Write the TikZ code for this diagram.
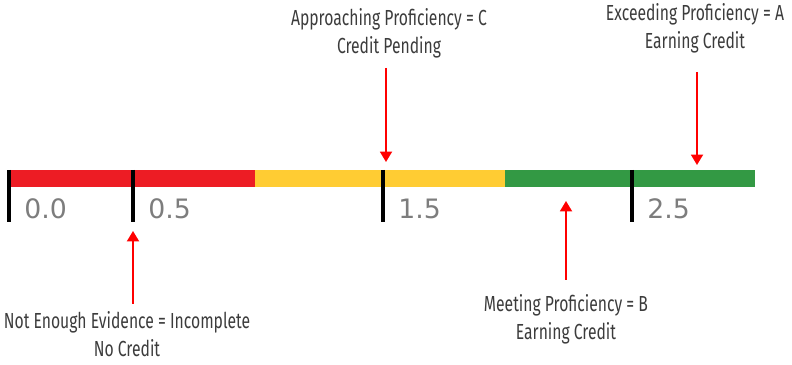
\documentclass[tikz,border=0pt]{standalone}
\usepackage{fontspec}
\setmainfont{Fira Sans}
\newfontfamily\narrowfont[FakeStretch=0.72]{Fira Sans}
\newfontfamily\scalefont{DejaVu Sans}
\usetikzlibrary{arrows.meta,positioning}

\definecolor{barred}{RGB}{237,28,36}
\definecolor{baryellow}{RGB}{255,204,51}
\definecolor{bargreen}{RGB}{51,153,68}
\definecolor{labelgray}{RGB}{60,60,60}
\definecolor{tickgray}{RGB}{125,125,125}

\begin{document}
\begin{tikzpicture}[x=0.025cm, y=-0.025cm,
    label/.style={align=center, font=\narrowfont\fontsize{15.5}{20}\selectfont, text=labelgray, inner sep=0pt},
    marker/.style={-{Triangle[length=2.6mm, width=3mm]}, red, line width=1.3pt},
    tickmark/.style={line width=3pt, black},
    ticktext/.style={anchor=west, font=\scalefont\fontsize{19}{19}\selectfont, text=tickgray, inner sep=0pt}
]
    \useasboundingbox (0,0) rectangle (792,365);

    % colour bands
    \fill[barred]    (8,170) rectangle (255,187);
    \fill[baryellow] (255,170) rectangle (505,187);
    \fill[bargreen]  (505,170) rectangle (755,187);

    % ticks and their values
    \foreach \x/\v/\n in {9/0.0/t0, 133/0.5/t1, 383/1.5/t2, 632/2.5/t3} {
        \draw[tickmark] (\x,170) -- (\x,222);
        \node[ticktext] (\n) at (\x+15,209) {\v};
    }

    % labels
    \node[label] (labC) at (389,33) {Approaching Proficiency = C\\Credit Pending};
    \node[label] (labA) at (695,28) {Exceeding Proficiency = A\\Earning Credit};
    \node[label] (labB) at (566,319) {Meeting Proficiency = B\\Earning Credit};
    \node[label] (labI) at (127,334) {Not Enough Evidence = Incomplete\\No Credit};

    \coordinate (tipC) at (386,162);
    \coordinate (tipA) at (697,165);
    \coordinate (tipB) at (566,201);
    \coordinate (tipI) at (133,231);

    \draw[marker] (tipC |- 0,68) -- (tipC);
    \draw[marker] (tipA |- 0,72) -- (tipA);
    \draw[marker] (tipB |- 0,280) -- (tipB);
    \draw[marker] (tipI |- 0,304) -- (tipI);
\end{tikzpicture}
\end{document}
